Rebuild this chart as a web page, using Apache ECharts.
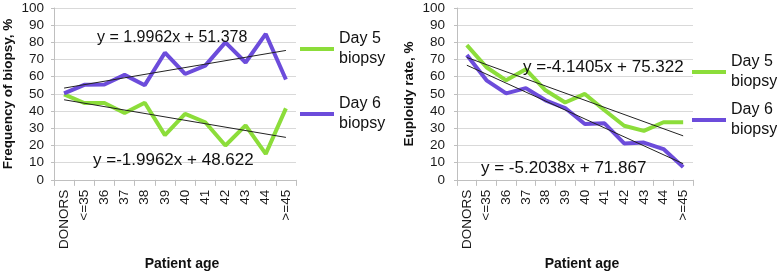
<!DOCTYPE html>
<html>
<head>
<meta charset="utf-8">
<script src="https://cdn.jsdelivr.net/npm/echarts/dist/echarts.min.js"></script>
<style>
  html, body { margin: 0; padding: 0; background: #fff; }
  #chart { width: 777px; height: 276px; }
</style>
</head>
<body>
<div id="chart"></div>
<script>
  // categories (patient age groups)
  var ages = ['DONORS', '<=35', '36', '37', '38', '39', '40', '41', '42', '43', '44', '>=45'];

  // left panel: frequency of biopsy, %
  var freqDay5 = [49.7, 44.7, 44.7, 38.9, 44.9, 26, 38.4, 33.5, 20, 31.7, 15.1, 41.6];
  var freqDay6 = [50.3, 55.3, 55.5, 61.1, 55.1, 74, 61.6, 66.5, 80, 68.3, 84.9, 58.4];
  // right panel: euploidy rate, %
  var euplDay5 = [78.4, 65.5, 57.9, 64.3, 52.1, 45, 50, 40.5, 31.5, 28.5, 33.5, 33.5];
  var euplDay6 = [72.6, 57.9, 50.3, 53.4, 46.3, 41.8, 32.5, 32.9, 21.2, 21.7, 17.9, 7.4];

  // linear trend end points (first and last category)
  var freqTrend5 = [46.6, 24.7];
  var freqTrend6 = [53.4, 75.3];
  var euplTrend5 = [71.2, 25.6];
  var euplTrend6 = [66.7, 9.4];

  var eqFreq6 = 'y = 1.9962x + 51.378';
  var eqFreq5 = 'y =-1.9962x + 48.622';
  var eqEupl5 = 'y =-4.1405x + 75.322';
  var eqEupl6 = 'y = -5.2038x + 71.867';

  var GREEN = '#8cdd3a';
  var PURPLE = '#6c4cdb';
  var FONT = 'Liberation Sans, Arial, sans-serif';

  function trendData(ends) {
    var d = ages.map(function () { return null; });
    d[0] = ends[0];
    d[d.length - 1] = ends[1];
    return d;
  }

  function xAxis(idx, gap) {
    return {
      type: 'category', gridIndex: idx, data: ages,
      name: 'Patient age', nameLocation: 'middle', nameGap: gap,
      nameTextStyle: { fontFamily: FONT, fontSize: 14, fontWeight: 'bold', color: '#111', padding: [0, 0, 0, 14] },
      axisLine: { lineStyle: { color: '#bfbfbf' } },
      axisTick: { show: true, length: 6, lineStyle: { color: '#bfbfbf' } },
      axisLabel: { rotate: 90, margin: 10, fontFamily: FONT, fontSize: 13.5, color: '#1a1a1a', interval: 0 }
    };
  }

  function yAxis(idx, name, gap, margin) {
    return {
      type: 'value', gridIndex: idx, min: 0, max: 100, interval: 10,
      name: name, nameLocation: 'middle', nameRotate: 90, nameGap: gap,
      nameTextStyle: { fontFamily: FONT, fontSize: 13.5, fontWeight: 'bold', color: '#111' },
      axisLine: { show: true, lineStyle: { color: '#bfbfbf' } },
      axisTick: { show: true, length: 3, lineStyle: { color: '#bfbfbf' } },
      axisLabel: { margin: margin, fontFamily: FONT, fontSize: 13.5, color: '#1a1a1a' },
      splitLine: { lineStyle: { color: '#d9d9d9' } }
    };
  }

  function lineSeries(name, data, color, idx) {
    return {
      name: name, type: 'line', data: data, xAxisIndex: idx, yAxisIndex: idx,
      symbol: 'none', lineStyle: { width: 4, color: color }, itemStyle: { color: color }
    };
  }

  function trendSeries(ends, idx) {
    return {
      type: 'line', data: trendData(ends), connectNulls: true, xAxisIndex: idx, yAxisIndex: idx,
      symbol: 'none', z: 5, silent: true,
      lineStyle: { width: 1, color: '#222' }
    };
  }

  function legend(left, top, gap) {
    return {
      orient: 'vertical', left: left, top: top, padding: 0, itemGap: gap,
      icon: 'rect', itemWidth: 34, itemHeight: 4,
      data: ['Day 5', 'Day 6'],
      formatter: function (n) { return n + '\nbiopsy'; },
      textStyle: { fontFamily: FONT, fontSize: 16, lineHeight: 20, color: '#111', padding: [20, 0, 0, 0] }
    };
  }

  function eq(text, x, y, size) {
    return {
      type: 'text', x: x, y: y, z: 10,
      style: { text: text, fontFamily: FONT, fontSize: size, fill: '#111', verticalAlign: 'middle' }
    };
  }

  var chart = echarts.init(document.getElementById('chart'));

  var option = {
    animation: false,
    grid: [
      { left: 53, top: 8, width: 243, height: 185 },
      { left: 457, top: 8, width: 236, height: 186 }
    ],
    xAxis: [xAxis(0, 68), xAxis(1, 63)],
    yAxis: [
      yAxis(0, 'Frequency of biopsy, %', 39, 10),
      yAxis(1, 'Euploidy rate, %', 41, 12)
    ],
    legend: [
      legend(300, 19, 5),
      legend(692, 42, -12)
    ],
    series: [
      lineSeries('Day 5', freqDay5, GREEN, 0),
      lineSeries('Day 6', freqDay6, PURPLE, 0),
      trendSeries(freqTrend5, 0),
      trendSeries(freqTrend6, 0),
      lineSeries('Day 5', euplDay5, GREEN, 1),
      lineSeries('Day 6', euplDay6, PURPLE, 1),
      trendSeries(euplTrend5, 1),
      trendSeries(euplTrend6, 1)
    ],
    graphic: [
      eq(eqFreq6, 97, 38, 16),
      eq(eqFreq5, 93, 160, 17),
      eq(eqEupl5, 523, 67, 17),
      eq(eqEupl6, 481, 168, 17)
    ]
  };

  chart.setOption(option);
</script>
</body>
</html>
